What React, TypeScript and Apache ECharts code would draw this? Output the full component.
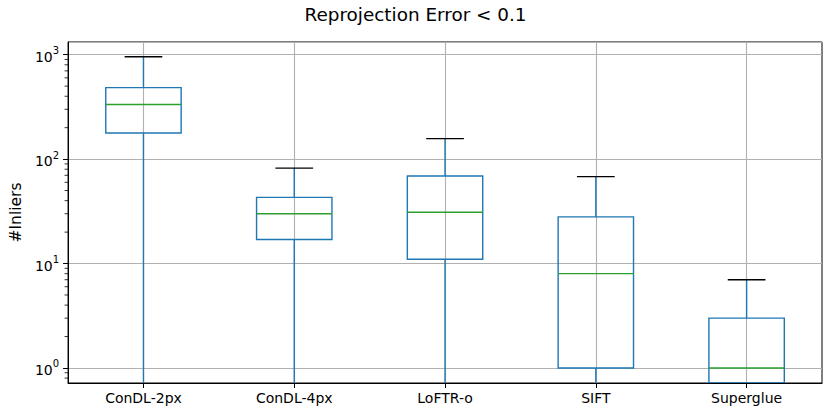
import React, { useEffect, useRef } from "react";
import * as echarts from "echarts";

// ---- data ----
const categories = ["ConDL-2px", "ConDL-4px", "LoFTR-o", "SIFT", "Superglue"];
const whiskerLow = [0, 0, 0, 0, 0];
const q1 = [178, 17, 11, 1, 0];
const median = [333, 30, 31, 8, 1];
const q3 = [484, 43, 69, 28, 3];
const whiskerHigh = [957, 82, 157, 68, 7];

// axis range / ticks
const yMin = 0.718;
const yMax = 1323;
const majorTickExponents: Record<number, string> = { 0: "0", 1: "1", 2: "2", 3: "3" };
const minorTickValues = [
  0.8, 0.9,
  2, 3, 4, 5, 6, 7, 8, 9,
  20, 30, 40, 50, 60, 70, 80, 90,
  200, 300, 400, 500, 600, 700, 800, 900,
];

const BLUE = "#1f77b4";
const GREEN = "#2ca02c";
const FONT = "DejaVu Sans";

export default function App() {
  const ref = useRef<HTMLDivElement>(null);

  useEffect(() => {
    document.body.style.margin = "0";
    if (!ref.current) return;
    const chart = echarts.init(ref.current, null, { renderer: "svg" });

    const boxData = categories.map((_, i) => [i, whiskerLow[i], q1[i], median[i], q3[i], whiskerHigh[i]]);

    const option: any = {
      animation: false,
      backgroundColor: "#ffffff",
      title: {
        text: "Reprojection Error < 0.1",
        left: "center",
        top: 5,
        padding: 0,
        textStyle: { fontFamily: FONT, fontSize: 18.4, fontWeight: "normal", color: "#000" },
      },
      grid: {
        left: 62,
        right: 9,
        top: 42,
        bottom: 31,
        show: true,
        borderColor: "#000",
        borderWidth: 1,
        backgroundColor: "transparent",
      },
      xAxis: {
        type: "category",
        data: categories,
        boundaryGap: true,
        axisLine: { show: true, lineStyle: { color: "#000", width: 1 } },
        axisTick: { show: true, alignWithLabel: true, length: 5, lineStyle: { color: "#000", width: 1 } },
        axisLabel: { margin: 8, fontFamily: FONT, fontSize: 14, color: "#000" },
        splitLine: { show: true, alignWithLabel: true, lineStyle: { color: "#b0b0b0", width: 1.1 } },
      },
      yAxis: {
        type: "log",
        logBase: 10,
        min: yMin,
        max: yMax,
        name: "#Inliers",
        nameLocation: "middle",
        nameGap: 40,
        nameTextStyle: { fontFamily: FONT, fontSize: 15.5, color: "#000" },
        axisLine: { show: true, lineStyle: { color: "#000", width: 1 } },
        axisTick: { show: true, length: 5, lineStyle: { color: "#000", width: 1 } },
        axisLabel: {
          margin: 9,
          fontFamily: FONT,
          color: "#000",
          showMinLabel: false,
          showMaxLabel: false,
          formatter: (v: number) => {
            const e = Math.log10(v);
            const r = Math.round(e);
            if (Math.abs(e - r) > 1e-6) return "";
            const s = majorTickExponents[r];
            return s === undefined ? "" : `{b|10}{s|${s}}`;
          },
          rich: {
            b: { fontFamily: FONT, fontSize: 14, lineHeight: 18, color: "#000", verticalAlign: "bottom" },
            s: { fontFamily: FONT, fontSize: 10, lineHeight: 10, color: "#000", verticalAlign: "top" },
          },
        },
        splitLine: { show: true, lineStyle: { color: "#b0b0b0", width: 1.1 } },
      },
      series: [
        {
          type: "custom",
          name: "boxes",
          clip: true,
          silent: true,
          z: 5,
          data: boxData,
          encode: { x: 0, y: [1, 2, 3, 4, 5] },
          renderItem: (params: any, api: any) => {
            const i = api.value(0);
            const vals = [1, 2, 3, 4, 5].map((k) => api.value(k) as number);
            const [lo, a, m, b, hi] = vals;
            const cl = (v: number) => Math.max(v, yMin);
            const bw = api.size([1, 0])[0];
            const halfBox = bw * 0.25;
            const halfCap = bw * 0.125;
            const pLo = api.coord([i, cl(lo)]);
            const pQ1 = api.coord([i, cl(a)]);
            const pMed = api.coord([i, cl(m)]);
            const pQ3 = api.coord([i, cl(b)]);
            const pHi = api.coord([i, cl(hi)]);
            const x = pQ1[0];
            const lw = 1.4;
            const children: any[] = [
              {
                type: "line",
                shape: { x1: x, y1: pQ1[1], x2: x, y2: pLo[1] },
                style: { stroke: BLUE, lineWidth: lw },
              },
              {
                type: "line",
                shape: { x1: x, y1: pQ3[1], x2: x, y2: pHi[1] },
                style: { stroke: BLUE, lineWidth: lw },
              },
              {
                type: "rect",
                shape: { x: x - halfBox, y: pQ3[1], width: halfBox * 2, height: pQ1[1] - pQ3[1] },
                style: { stroke: BLUE, fill: "none", lineWidth: lw },
              },
              {
                type: "line",
                shape: { x1: x - halfBox, y1: pMed[1], x2: x + halfBox, y2: pMed[1] },
                style: { stroke: GREEN, lineWidth: lw },
              },
              {
                type: "line",
                shape: { x1: x - halfCap, y1: pHi[1], x2: x + halfCap, y2: pHi[1] },
                style: { stroke: "#000", lineWidth: lw },
              },
            ];
            if (lo >= yMin) {
              children.push({
                type: "line",
                shape: { x1: x - halfCap, y1: pLo[1], x2: x + halfCap, y2: pLo[1] },
                style: { stroke: "#000", lineWidth: lw },
              });
            }
            return { type: "group", children };
          },
        },
        {
          type: "custom",
          name: "minorTicks",
          clip: false,
          silent: true,
          z: 6,
          data: minorTickValues.map((v) => [0, v]),
          encode: { x: 0, y: 1 },
          renderItem: (params: any, api: any) => {
            const x0 = params.coordSys.x;
            const p = api.coord([0, api.value(1)]);
            return {
              type: "line",
              shape: { x1: x0 - 3.5, y1: p[1], x2: x0, y2: p[1] },
              style: { stroke: "#000", lineWidth: 0.8 },
            };
          },
        },
      ],
    };

    chart.setOption(option);
    return () => chart.dispose();
  }, []);

  return <div ref={ref} style={{ width: 831, height: 414 }} />;
}
